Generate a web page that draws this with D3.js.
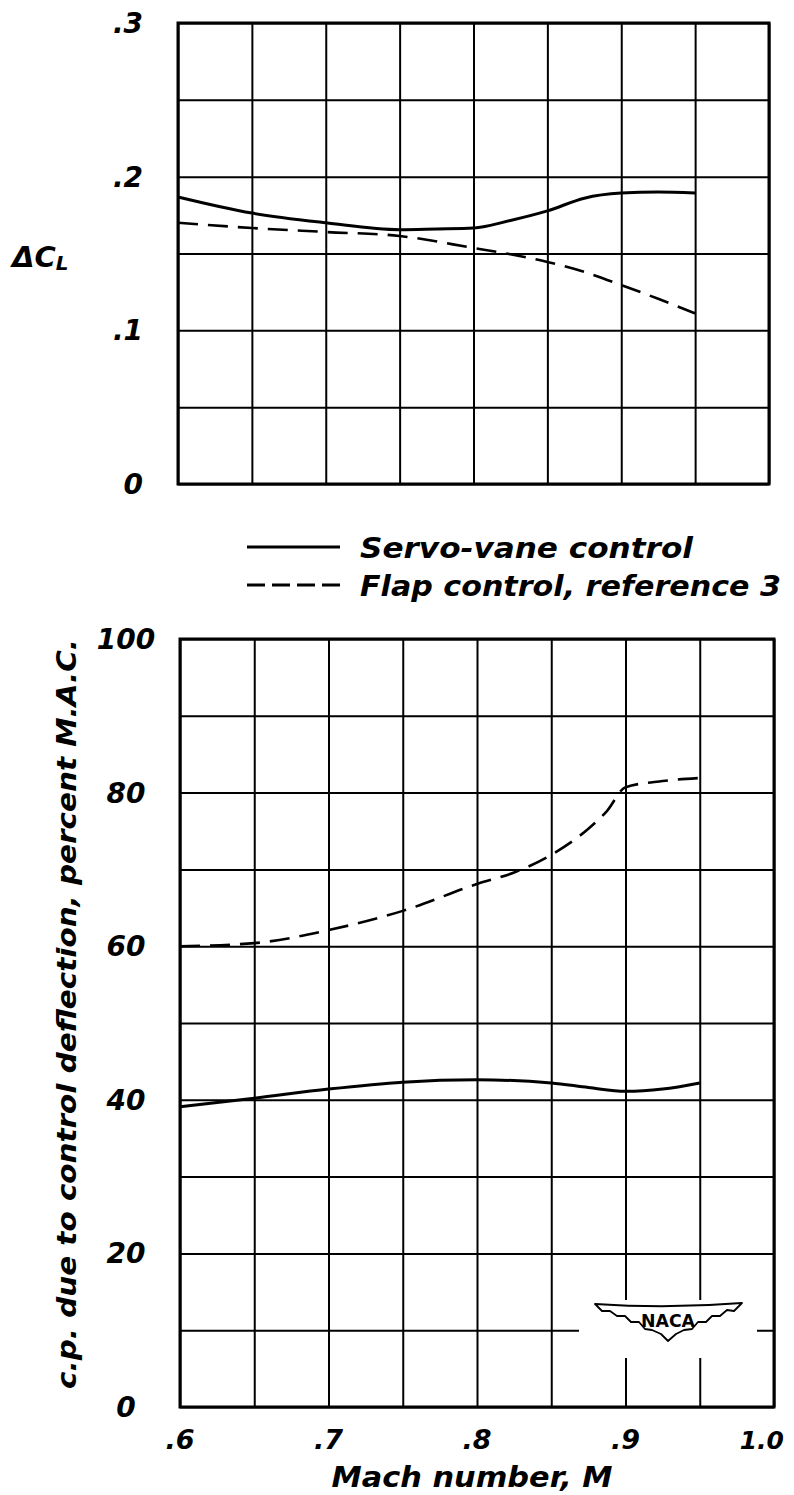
<!DOCTYPE html>
<html>
<head>
<meta charset="utf-8">
<script src="https://cdn.jsdelivr.net/npm/d3@7"></script>
<style>
  html, body { margin: 0; padding: 0; background: #fff; }
  svg text { font-family: "DejaVu Sans", sans-serif; font-weight: bold; font-style: italic; fill: #000; }
</style>
</head>
<body>
<svg id="chart" width="794" height="1495"></svg>
<script>
// Mach numbers at which the curves were faired
const machServo = [0.6, 0.65, 0.7, 0.75, 0.775, 0.8, 0.825, 0.85, 0.875, 0.9, 0.925, 0.95];
const machFlap  = [0.6, 0.65, 0.7, 0.75, 0.8, 0.825, 0.85, 0.875, 0.9, 0.925, 0.95];

// Lift increment due to control deflection, ΔC_L
const dclServo = [0.1868, 0.1763, 0.170, 0.1655, 0.1660, 0.1666, 0.1715, 0.1777, 0.186, 0.1893, 0.190, 0.1893];
const dclFlap  = [0.170, 0.1666, 0.1640, 0.1614, 0.1536, 0.1495, 0.1445, 0.138, 0.1295, 0.1205, 0.111];

// Center of pressure due to control deflection, percent M.A.C.
const cpMachServo = [0.6, 0.65, 0.7, 0.75, 0.8, 0.85, 0.875, 0.9, 0.925, 0.95];
const cpServo     = [39.1, 40.2, 41.4, 42.3, 42.6, 42.2, 41.6, 41.1, 41.4, 42.2];
const cpMachFlap  = [0.6, 0.65, 0.7, 0.75, 0.8, 0.825, 0.85, 0.875, 0.8875, 0.9, 0.925, 0.95];
const cpFlap      = [60.0, 60.4, 62.1, 64.6, 68.1, 69.6, 71.9, 75.3, 77.6, 80.7, 81.5, 81.9];

// Axis ticks and labels
const machTicks = [0.6, 0.7, 0.8, 0.9, 1.0];
const machTickLabels = [".6", ".7", ".8", ".9", "1.0"];
const machGrid = d3.range(0.6, 1.0001, 0.05);
const dclTicks = [0, 0.1, 0.2, 0.3];
const dclTickLabels = ["0", ".1", ".2", ".3"];
const dclGrid = d3.range(0, 0.3001, 0.05);
const cpTicks = [0, 20, 40, 60, 80, 100];
const cpTickLabels = ["0", "20", "40", "60", "80", "100"];
const cpGrid = d3.range(0, 100.001, 10);

const legendNames = ["Servo-vane control", "Flap control, reference 3"];
const legendDash = [null, "18,7"];

const svg = d3.select("#chart");
svg.append("rect").attr("width", 794).attr("height", 1495).attr("fill", "#fff");

// ---------- scales ----------
const xT = d3.scaleLinear().domain([0.6, 1.0]).range([178, 769]);
const yT = d3.scaleLinear().domain([0, 0.3]).range([484, 23]);
const xB = d3.scaleLinear().domain([0.6, 1.0]).range([180, 774]);
const yB = d3.scaleLinear().domain([0, 100]).range([1407, 639]);

function grid(g, x, y, xs, ys) {
  const [x0, x1] = x.range();
  const [y0, y1] = y.range();
  g.append("g")
    .attr("transform", `translate(0,${y0})`)
    .call(d3.axisBottom(x).tickValues(xs).tickSize(-(y0 - y1)).tickFormat(""))
    .call(a => a.select(".domain").remove())
    .call(a => a.selectAll("line").attr("stroke", "#000").attr("stroke-width", 2));
  g.append("g")
    .attr("transform", `translate(${x0},0)`)
    .call(d3.axisLeft(y).tickValues(ys).tickSize(-(x1 - x0)).tickFormat(""))
    .call(a => a.select(".domain").remove())
    .call(a => a.selectAll("line").attr("stroke", "#000").attr("stroke-width", 2));
  g.append("rect")
    .attr("x", x0).attr("y", y1).attr("width", x1 - x0).attr("height", y0 - y1)
    .attr("fill", "none").attr("stroke", "#000").attr("stroke-width", 3);
}

// ---------- upper panel: ΔC_L ----------
const upper = svg.append("g");
grid(upper, xT, yT, machGrid, dclGrid);

const lineT = d3.line().curve(d3.curveMonotoneX);
upper.append("path")
  .attr("d", lineT(machServo.map((m, i) => [xT(m), yT(dclServo[i])])))
  .attr("fill", "none").attr("stroke", "#000").attr("stroke-width", 3);
upper.append("path")
  .attr("d", lineT(machFlap.map((m, i) => [xT(m), yT(dclFlap[i])])))
  .attr("fill", "none").attr("stroke", "#000").attr("stroke-width", 2.6)
  .attr("stroke-dasharray", "20,10");

upper.selectAll("text.ytick").data(dclTicks).enter().append("text")
  .attr("class", "ytick")
  .attr("x", 143).attr("y", d => yT(d) + 10)
  .attr("text-anchor", "end").attr("font-size", 28)
  .text((d, i) => dclTickLabels[i]);

const dclTitle = upper.append("text").attr("x", 12).attr("y", 267).attr("font-size", 29);
dclTitle.append("tspan").text("ΔC");
dclTitle.append("tspan").attr("font-size", 20).attr("dy", 3).text("L");

// ---------- legend ----------
const legend = svg.append("g");
legendNames.forEach((name, i) => {
  const ly = 547 + i * 38;
  legend.append("line")
    .attr("x1", 247).attr("x2", 340).attr("y1", ly).attr("y2", ly)
    .attr("stroke", "#000").attr("stroke-width", 3)
    .attr("stroke-dasharray", legendDash[i]);
  legend.append("text")
    .attr("x", 360).attr("y", ly + 11)
    .attr("font-size", 28)
    .attr("textLength", i === 0 ? 333 : 421)
    .attr("lengthAdjust", "spacingAndGlyphs")
    .text(name);
});

// ---------- lower panel: center of pressure ----------
const lower = svg.append("g");
grid(lower, xB, yB, machGrid, cpGrid);

// NACA emblem, set on a white patch in the lower right corner of the grid
const logo = lower.append("g");
logo.append("rect").attr("x", 579).attr("y", 1300).attr("width", 178).attr("height", 58).attr("fill", "#fff");
logo.append("path")
  .attr("d", "M595,1304 Q668,1309 742,1303 L734,1311 L727,1310 L720,1316 L712,1316 L706,1322 L698,1322 L692,1329 L684,1330 L676,1334 L668,1341 L661,1334 L652,1330 L645,1329 L639,1322 L631,1322 L625,1316 L617,1316 L610,1311 L602,1311 Z")
  .attr("fill", "#fff").attr("stroke", "#000").attr("stroke-width", 1.8).attr("stroke-linejoin", "round");
logo.append("text")
  .attr("x", 668).attr("y", 1327).attr("text-anchor", "middle")
  .attr("font-size", 17)
  .attr("textLength", 54).attr("lengthAdjust", "spacingAndGlyphs")
  .style("font-style", "normal")
  .text("NACA");

const lineB = d3.line().curve(d3.curveMonotoneX);
lower.append("path")
  .attr("d", lineB(cpMachServo.map((m, i) => [xB(m), yB(cpServo[i])])))
  .attr("fill", "none").attr("stroke", "#000").attr("stroke-width", 3);
lower.append("path")
  .attr("d", lineB(cpMachFlap.map((m, i) => [xB(m), yB(cpFlap[i])])))
  .attr("fill", "none").attr("stroke", "#000").attr("stroke-width", 2.6)
  .attr("stroke-dasharray", "20,10");

lower.selectAll("text.ytick").data(cpTicks).enter().append("text")
  .attr("class", "ytick")
  .attr("x", 126).attr("y", d => yB(d) + 10)
  .attr("text-anchor", "middle").attr("font-size", 28)
  .text((d, i) => cpTickLabels[i]);

lower.selectAll("text.xtick").data(machTicks).enter().append("text")
  .attr("class", "xtick")
  .attr("x", d => d === 1.0 ? 784 : xB(d)).attr("y", 1449)
  .attr("text-anchor", d => d === 1.0 ? "end" : "middle")
  .attr("font-size", d => d === 1.0 ? 25 : 27)
  .text((d, i) => machTickLabels[i]);

lower.append("text")
  .attr("x", 472).attr("y", 1487).attr("text-anchor", "middle")
  .attr("font-size", 28)
  .attr("textLength", 281).attr("lengthAdjust", "spacingAndGlyphs")
  .text("Mach number, M");

lower.append("text")
  .attr("transform", "translate(76,1014) rotate(-90)")
  .attr("text-anchor", "middle").attr("font-size", 27)
  .attr("textLength", 750).attr("lengthAdjust", "spacingAndGlyphs")
  .text("c.p. due to control deflection, percent M.A.C.");
</script>
</body>
</html>
